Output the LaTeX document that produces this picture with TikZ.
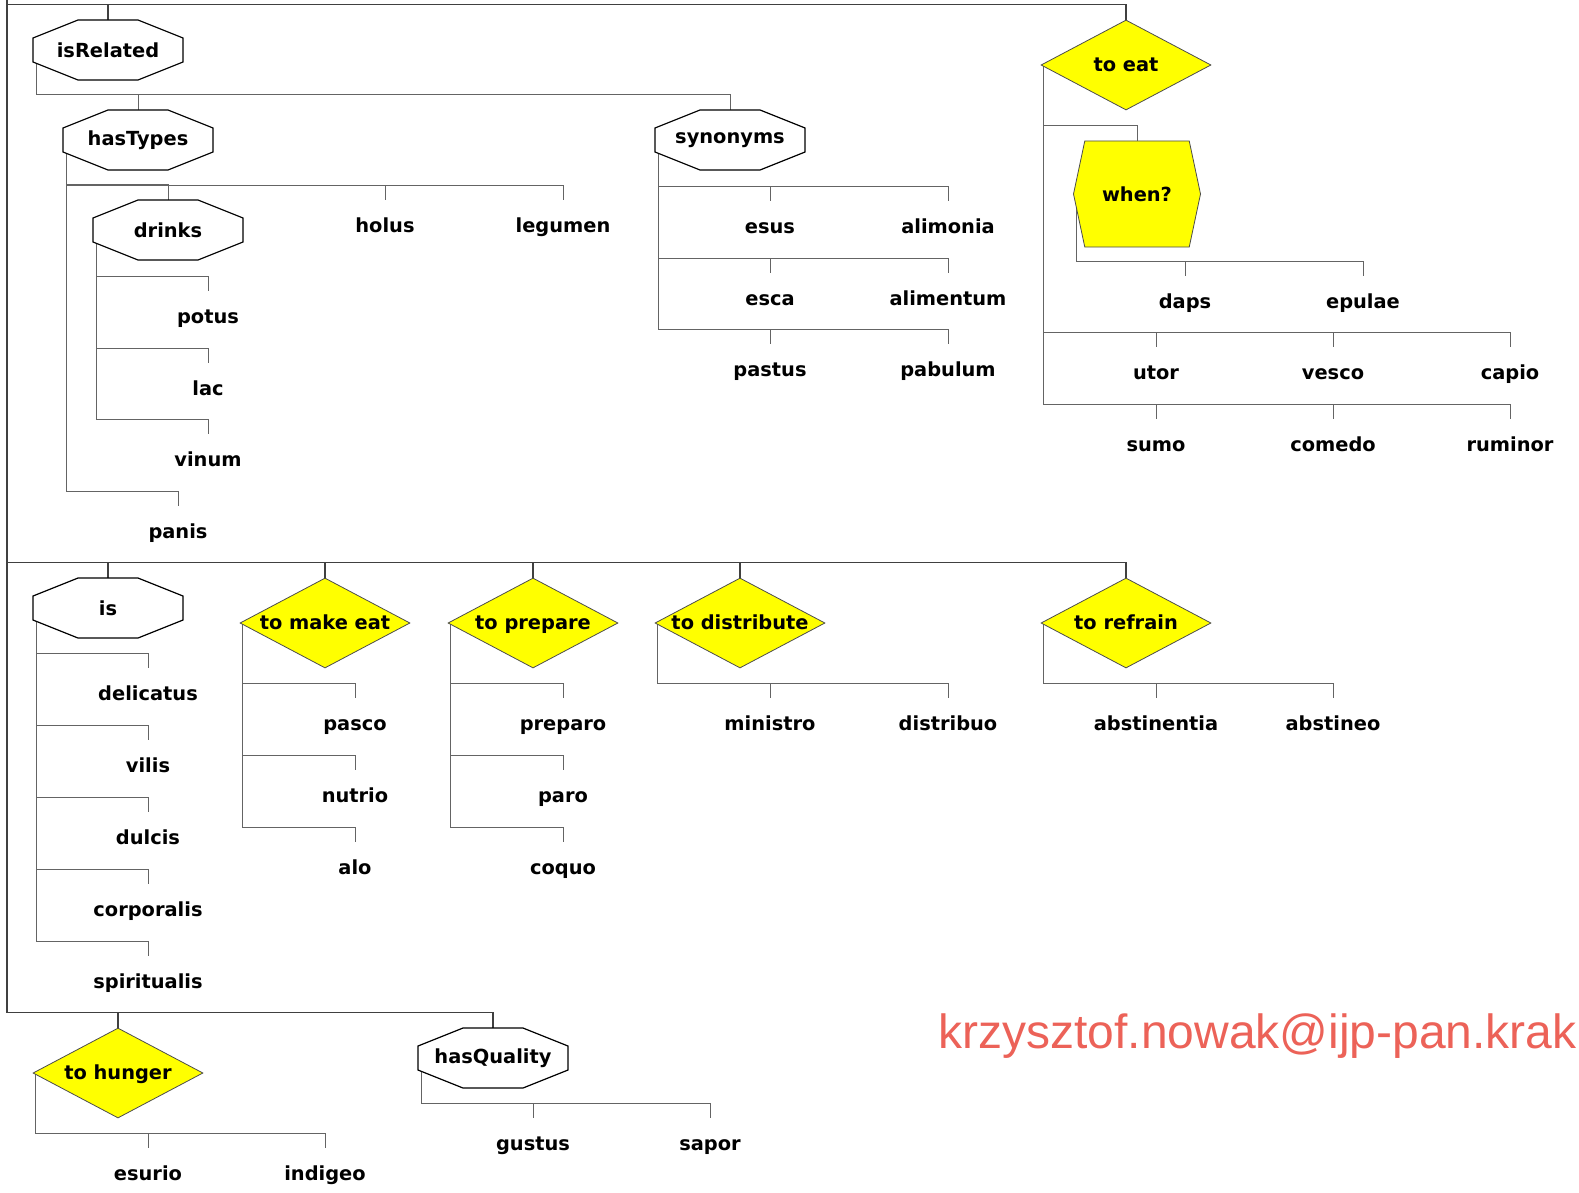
\documentclass[tikz,border=0pt]{standalone}
\usepackage{fontspec}
\setmainfont{DejaVu Sans}
\newfontfamily\mailfont{Liberation Sans}
\usetikzlibrary{shapes.geometric,shapes.symbols,backgrounds}
\definecolor{verbyellow}{RGB}{255,255,0}
\definecolor{mailred}{RGB}{236,98,88}
\definecolor{edgegray}{RGB}{100,100,100}
\tikzset{
    every node/.style={font=\fontsize{9.7}{12}\selectfont\bfseries},
    reloutline/.style={draw=black, fill=white, line width=0.6pt},
    relbox/.style={minimum width=75pt, minimum height=30pt, inner sep=0pt},
    verbbox/.style={diamond, draw=black!70, fill=verbyellow, line width=0.4pt, text height=9pt, text depth=2.5pt,
        minimum width=85pt, minimum height=45pt, inner sep=0pt},
    askbox/.style={signal, signal to=west and east, signal pointer angle=156, draw=black!70,
        fill=verbyellow, line width=0.4pt, minimum width=63.5pt, minimum height=53pt, inner sep=0pt},
    word/.style={anchor=north, text height=9pt, text depth=2.5pt, inner xsep=2pt, inner ysep=7pt},
    branch/.style={draw=edgegray, line width=0.5pt},
    trunk/.style={draw=black!75, line width=0.75pt},
}
\newcommand\relnode[3]{%
    \filldraw[reloutline] (#2) ++(-30,-30) -- ++(60,0) -- ++(45,18) -- ++(0,24) -- ++(-45,18)
        -- ++(-60,0) -- ++(-45,-18) -- ++(0,-24) -- cycle;
    \node[relbox] (#1) at (#2) {#3};}
\begin{document}
\begin{tikzpicture}[x=0.5pt, y=-0.5pt]
    \useasboundingbox (0,0) rectangle (1579,1193);
    \coordinate (root) at (7,-20);
    \relnode{isRelated}{108,50}{isRelated}
    \relnode{hasTypes}{138,140}{hasTypes}
    \relnode{drinks}{168,230}{drinks}
    \relnode{synonyms}{730,140}{synonyms}
    \relnode{is}{108,608}{is}
    \relnode{hasQuality}{493,1058}{hasQuality}
    \node[verbbox] (toEat) at (1126,65) {\makebox[0pt]{to eat}};
    \node[verbbox] (toMakeEat) at (325,623) {\makebox[0pt]{to make eat}};
    \node[verbbox] (toPrepare) at (533,623) {\makebox[0pt]{to prepare}};
    \node[verbbox] (toDistribute) at (740,623) {\makebox[0pt]{to distribute}};
    \node[verbbox] (toRefrain) at (1126,623) {\makebox[0pt]{to refrain}};
    \node[verbbox] (toHunger) at (118,1073) {\makebox[0pt]{to hunger}};
    \node[askbox] (when) at (1137,194) {when?};
    \node[word] (holus) at (385,200) {holus};
    \node[word] (legumen) at (563,200) {legumen};
    \node[word] (panis) at (178,506) {panis};
    \node[word] (potus) at (208,291) {potus};
    \node[word] (lac) at (208,363) {lac};
    \node[word] (vinum) at (208,434) {vinum};
    \node[word] (esus) at (770,201) {esus};
    \node[word] (alimonia) at (948,201) {alimonia};
    \node[word] (esca) at (770,273) {esca};
    \node[word] (alimentum) at (948,273) {alimentum};
    \node[word] (pastus) at (770,344) {pastus};
    \node[word] (pabulum) at (948,344) {pabulum};
    \node[word] (daps) at (1185,276) {daps};
    \node[word] (epulae) at (1363,276) {epulae};
    \node[word] (utor) at (1156,347) {utor};
    \node[word] (vesco) at (1333,347) {vesco};
    \node[word] (capio) at (1510,347) {capio};
    \node[word] (sumo) at (1156,419) {sumo};
    \node[word] (comedo) at (1333,419) {comedo};
    \node[word] (ruminor) at (1510,419) {ruminor};
    \node[word] (delicatus) at (148,668) {delicatus};
    \node[word] (vilis) at (148,740) {vilis};
    \node[word] (dulcis) at (148,812) {dulcis};
    \node[word] (corporalis) at (148,884) {corporalis};
    \node[word] (spiritualis) at (148,956) {spiritualis};
    \node[word] (pasco) at (355,698) {pasco};
    \node[word] (nutrio) at (355,770) {nutrio};
    \node[word] (alo) at (355,842) {alo};
    \node[word] (preparo) at (563,698) {preparo};
    \node[word] (paro) at (563,770) {paro};
    \node[word] (coquo) at (563,842) {coquo};
    \node[word] (ministro) at (770,698) {ministro};
    \node[word] (distribuo) at (948,698) {distribuo};
    \node[word] (abstinentia) at (1156,698) {abstinentia};
    \node[word] (abstineo) at (1333,698) {abstineo};
    \node[word] (esurio) at (148,1148) {esurio};
    \node[word] (indigeo) at (325,1148) {indigeo};
    \node[word] (gustus) at (533,1118) {gustus};
    \node[word] (sapor) at (710,1118) {sapor};
    \node[font=\mailfont\fontsize{24}{28}\selectfont, text=mailred, anchor=base west, inner sep=0pt] (mail) at (938,1048) {krzysztof.nowak@ijp-pan.krak};
    \begin{scope}[on background layer]
        \foreach \c in {isRelated, toEat, is, toMakeEat, toPrepare, toDistribute, toRefrain, toHunger, hasQuality}
            \draw[trunk] (root) |- ([yshift=7.5pt]\c.north) -- (\c.north);
        \foreach \p/\c in {isRelated/hasTypes, isRelated/synonyms, hasTypes/drinks, hasTypes/holus, hasTypes/legumen, hasTypes/panis,
                drinks/potus, drinks/lac, drinks/vinum, synonyms/esus, synonyms/alimonia, synonyms/esca, synonyms/alimentum,
                synonyms/pastus, synonyms/pabulum, is/delicatus, is/vilis, is/dulcis, is/corporalis, is/spiritualis,
                hasQuality/gustus, hasQuality/sapor}
            \draw[branch] ([xshift=2pt]\p.west) |- ([yshift=7.5pt]\c.north) -- (\c.north);
        \foreach \p/\c in {toEat/when, toEat/utor, toEat/vesco, toEat/capio, toEat/sumo, toEat/comedo, toEat/ruminor,
                when/daps, when/epulae, toMakeEat/pasco, toMakeEat/nutrio, toMakeEat/alo, toPrepare/preparo, toPrepare/paro,
                toPrepare/coquo, toDistribute/ministro, toDistribute/distribuo, toRefrain/abstinentia, toRefrain/abstineo,
                toHunger/esurio, toHunger/indigeo}
            \draw[branch] ([xshift=1.5pt]\p.west) |- ([yshift=7.5pt]\c.north) -- (\c.north);
    \end{scope}
\end{tikzpicture}
\end{document}
